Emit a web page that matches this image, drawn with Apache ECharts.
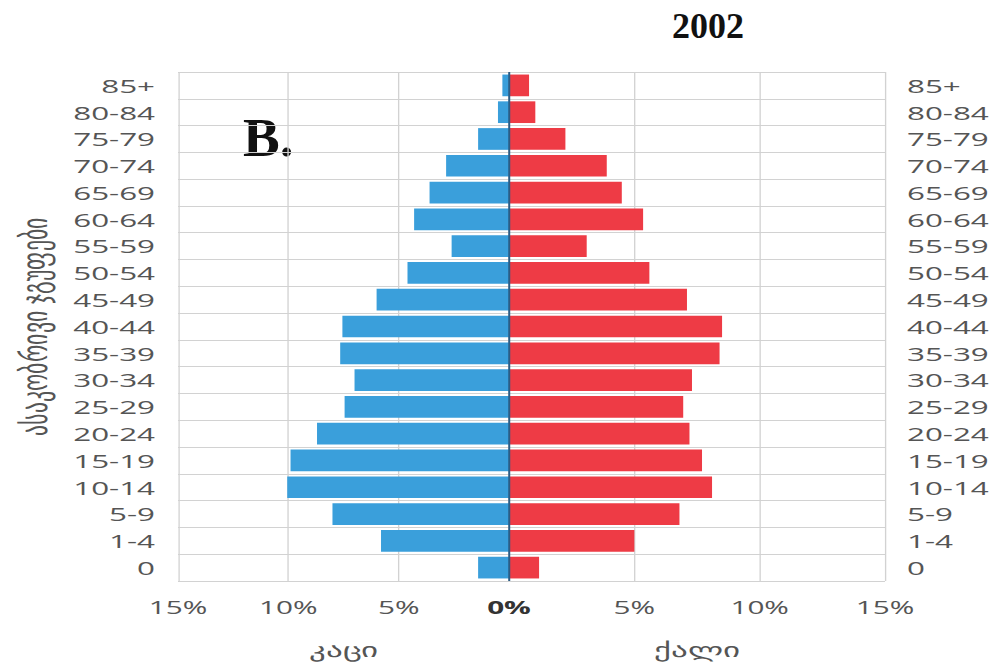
<!DOCTYPE html>
<html>
<head>
<meta charset="utf-8">
<script src="https://cdn.jsdelivr.net/npm/echarts@6/dist/echarts.min.js"></script>
<style>
html,body{margin:0;padding:0;background:#fff;overflow:hidden;width:997px;height:665px}
#c{width:604px;height:665px;transform:scaleX(1.6507);transform-origin:0 0}
</style>
</head>
<body>
<div id="c"></div>
<script>
const ageGroups = ["0","1-4","5-9","10-14","15-19","20-24","25-29","30-34","35-39","40-44","45-49","50-54","55-59","60-64","65-69","70-74","75-79","80-84","85+"];
const men   = [1.4, 5.8, 8.0, 10.05, 9.9, 8.7, 7.45, 7.0, 7.65, 7.55, 6.0, 4.6, 2.6, 4.3, 3.6, 2.85, 1.4, 0.5, 0.3];
const women = [1.2, 5.0, 6.8, 8.1, 7.7, 7.2, 6.95, 7.3, 8.4, 8.5, 7.1, 5.6, 3.1, 5.35, 4.5, 3.9, 2.25, 1.05, 0.8];
const xTicks = [0, 5, 10, 15];
const titleText = "2002";
const panelLabel = "B.";
const yName = "ასაკობრივი ჯგუფები";
const menName = "კაცი";
const womenName = "ქალი";

// the reference picture is horizontally stretched; the chart is laid out in
// a narrower box and stretched by CSS (SVG renderer keeps it crisp)
const S = 1.6507;
const X = (px) => px / S;

const labelFont = "Open Sans";
const gridColor = "#d2d2d2";
const textColor = "#555";

const chart = echarts.init(document.getElementById('c'), null, {renderer: 'svg'});
const pctFmt = (v) => v === 0 ? '{b|0%}' : v + '%';
chart.setOption({
  animation: false,
  graphic: [
    {type: 'text', x: X(672), y: 8, scaleX: 1 / S,
     style: {text: titleText, font: 'bold 36px "Liberation Serif"', fill: '#111'}},
    {type: 'text', x: X(243), y: 110, scaleX: 1 / S,
     style: {text: panelLabel, font: 'bold 55px "Liberation Serif"', fill: '#111'}}
  ],
  grid: [
    {left: X(178), right: 604 - X(509), top: 72, bottom: 84},
    {left: X(509), right: 604 - X(885), top: 72, bottom: 84}
  ],
  xAxis: [
    {
      type: 'value', gridIndex: 0, inverse: true, min: 0, max: 15, interval: 5,
      name: menName, nameLocation: 'middle', nameGap: 59,
      nameTextStyle: {fontSize: 20, color: textColor},
      axisLine: {show: false}, axisTick: {show: false},
      axisLabel: {formatter: pctFmt, fontFamily: labelFont, fontSize: 18, color: textColor, margin: 17,
        rich: {b: {fontFamily: labelFont, fontSize: 18, fontWeight: 'bold', color: '#333'}}},
      splitLine: {show: true, lineStyle: {color: gridColor, width: 0.8}}
    },
    {
      type: 'value', gridIndex: 1, min: 0, max: 15, interval: 5,
      name: womenName, nameLocation: 'middle', nameGap: 59,
      nameTextStyle: {fontSize: 20, color: textColor},
      axisLine: {show: false}, axisTick: {show: false},
      axisLabel: {formatter: (v) => v === 0 ? '' : v + '%', fontFamily: labelFont, fontSize: 18, color: textColor, margin: 17},
      splitLine: {show: true, lineStyle: {color: gridColor, width: 0.8}}
    }
  ],
  yAxis: [
    {
      type: 'category', gridIndex: 0, data: ageGroups, position: 'left',
      name: yName, nameLocation: 'middle', nameGap: 76,
      nameTextStyle: {fontSize: 22, color: textColor},
      axisLine: {show: false}, axisTick: {show: false},
      axisLabel: {fontFamily: labelFont, fontSize: 19, color: textColor, margin: X(23)},
      splitLine: {show: true, lineStyle: {color: gridColor, width: 1}}
    },
    {
      type: 'category', gridIndex: 1, data: ageGroups, position: 'right',
      axisLine: {show: false}, axisTick: {show: false},
      axisLabel: {fontFamily: labelFont, fontSize: 19, color: textColor, margin: X(22), align: 'left'},
      splitLine: {show: true, lineStyle: {color: gridColor, width: 1}}
    }
  ],
  series: [
    {
      type: 'bar', xAxisIndex: 0, yAxisIndex: 0, data: men, barCategoryGap: '19%',
      itemStyle: {color: '#3a9fdb'}
    },
    {
      type: 'bar', xAxisIndex: 1, yAxisIndex: 1, data: women, barCategoryGap: '19%',
      itemStyle: {color: '#ee3b45'},
      markLine: {silent: true, symbol: 'none', label: {show: false},
        lineStyle: {color: '#2a5d86', width: 1.2, type: 'solid'},
        data: [{xAxis: 0}]}
    }
  ]
});
</script>
</body>
</html>
